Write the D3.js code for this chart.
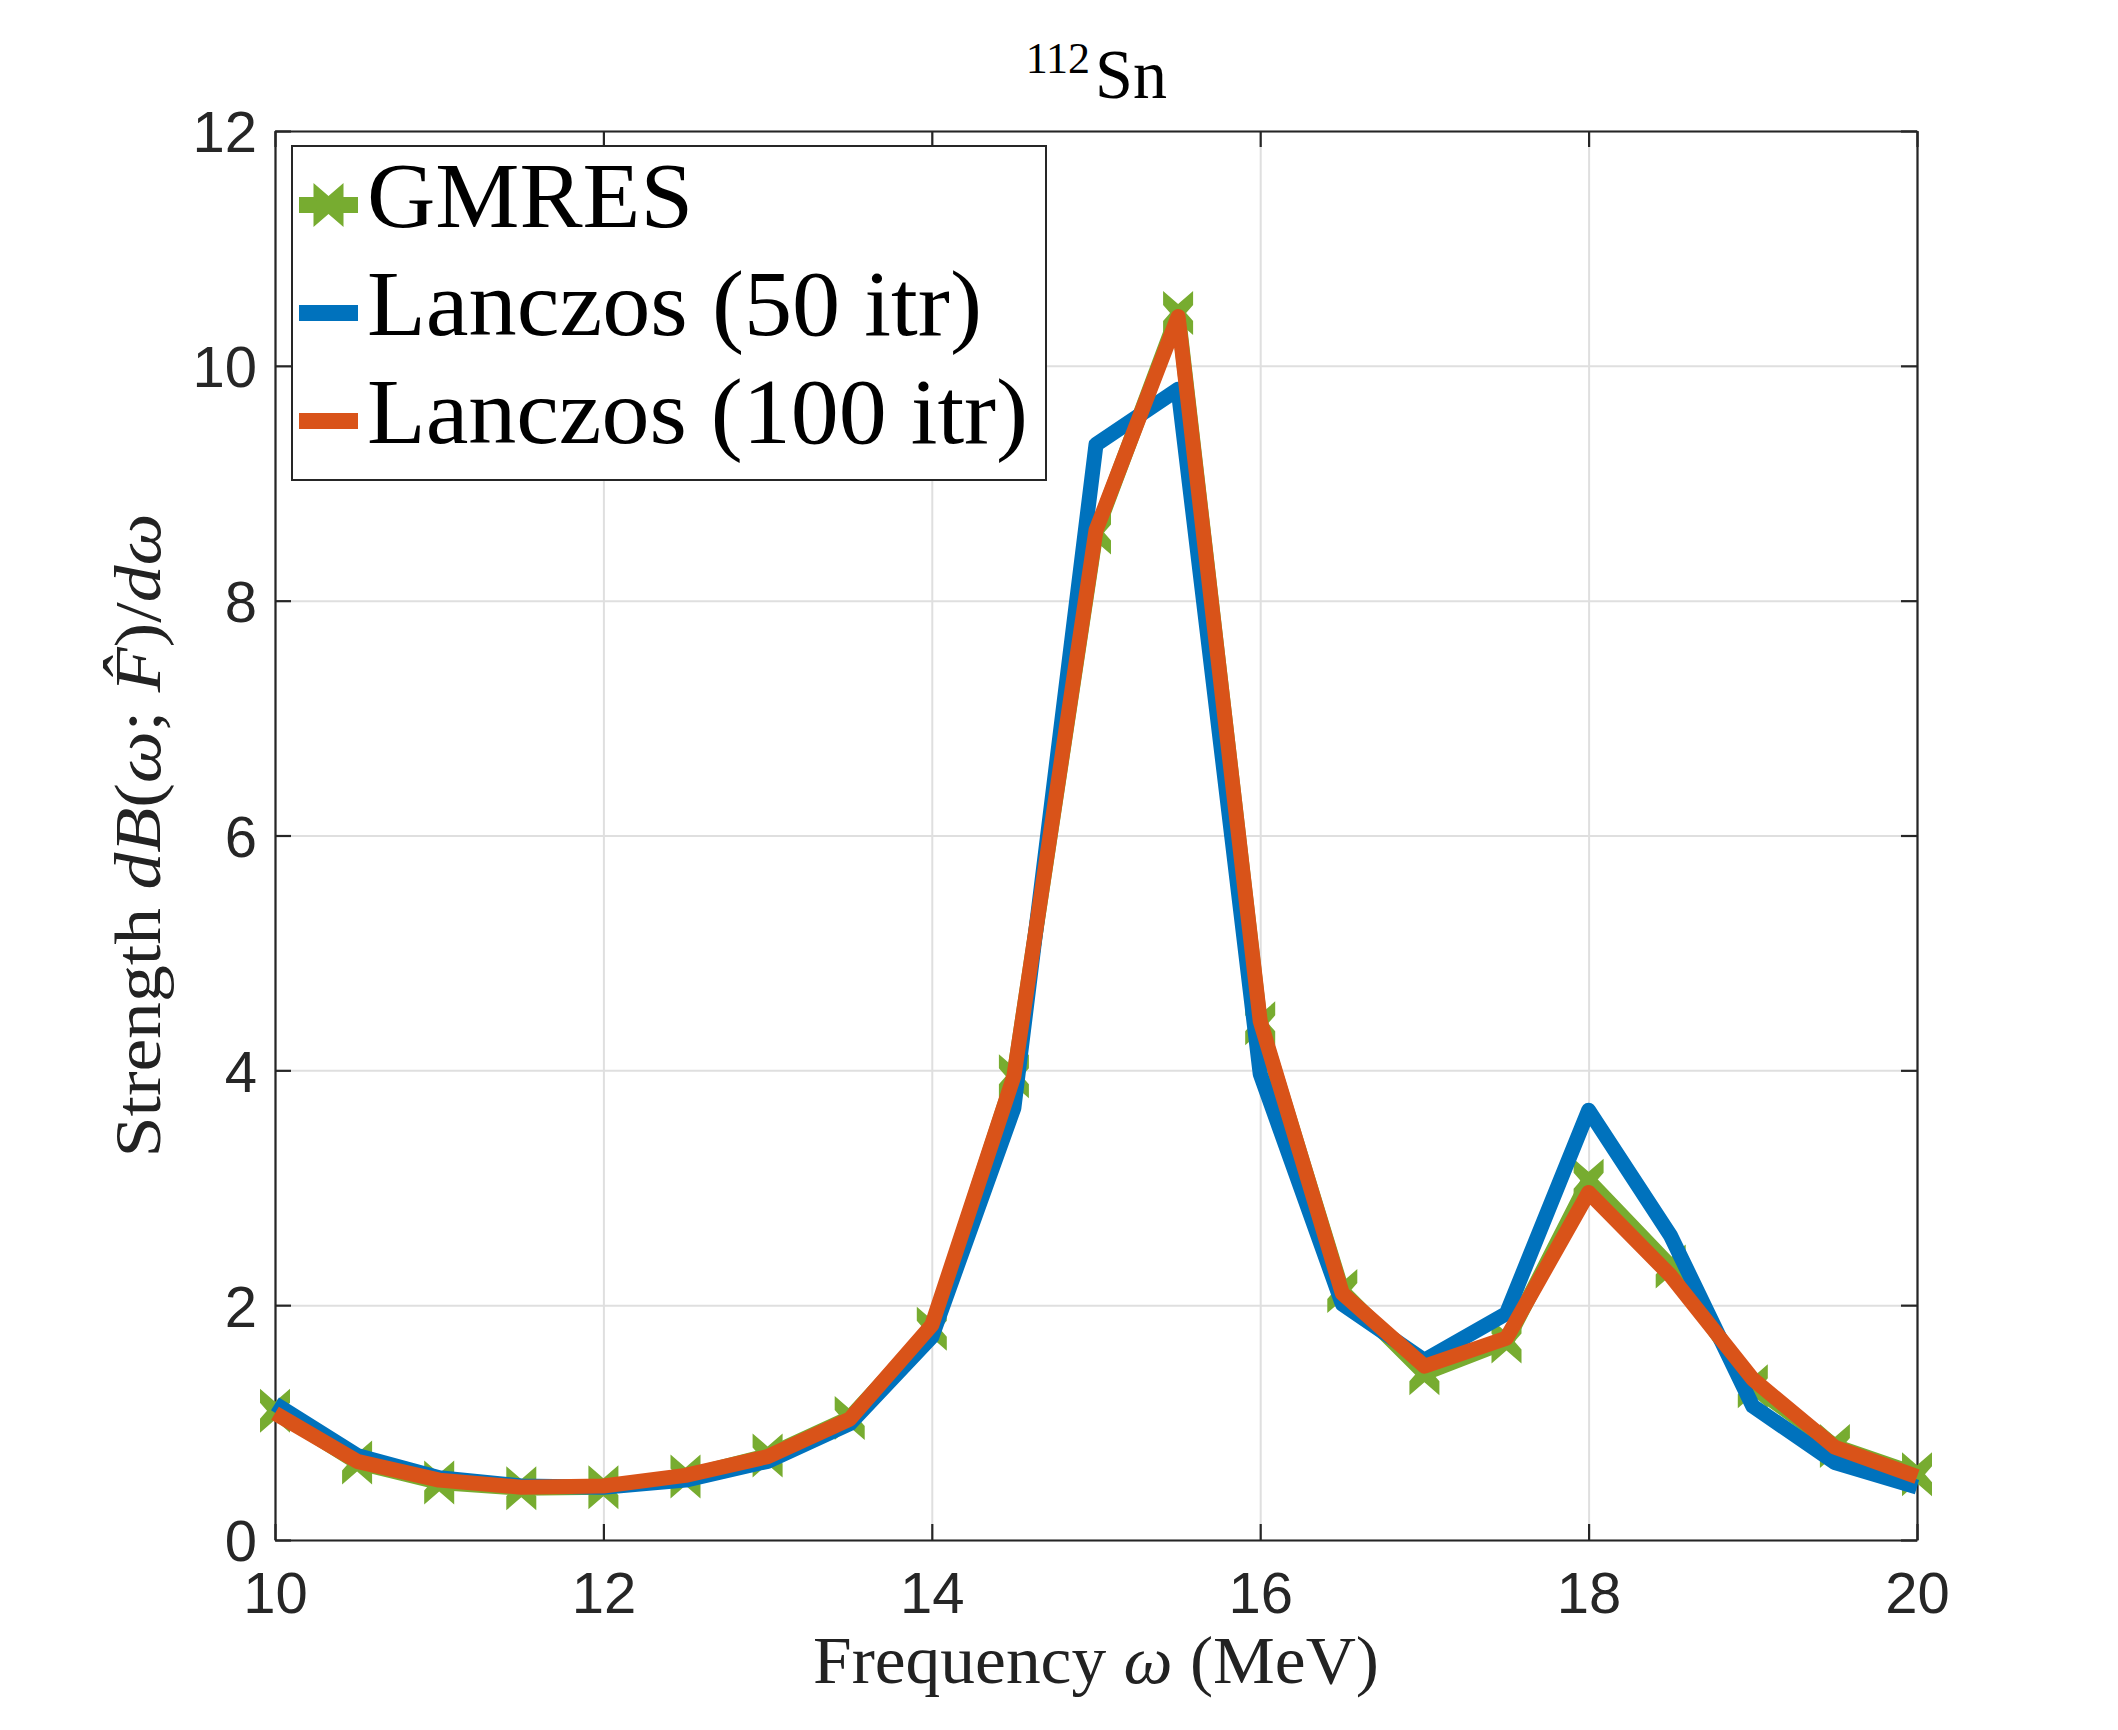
<!DOCTYPE html>
<html><head><meta charset="utf-8">
<script src="https://cdn.jsdelivr.net/npm/d3@7"></script>
<style>body{margin:0;background:#fff}</style>
</head><body><svg id="chart" width="2118" height="1730"></svg>
<script>
const freq = [10, 10.5, 11, 11.5, 12, 12.5, 13, 13.5, 14, 14.5, 15, 15.5, 16, 16.5, 17, 17.5, 18, 18.5, 19, 19.5, 20];
const gmres = [1.10, 0.66, 0.49, 0.44, 0.45, 0.54, 0.72, 1.04, 1.80, 3.95, 8.58, 10.45, 4.40, 2.12, 1.42, 1.69, 3.06, 2.33, 1.31, 0.80, 0.56];
const lanczos50 = [1.16, 0.72, 0.53, 0.46, 0.45, 0.51, 0.67, 0.99, 1.73, 3.68, 9.33, 9.80, 3.97, 2.01, 1.53, 1.93, 3.66, 2.59, 1.14, 0.66, 0.45];
const lanczos100 = [1.08, 0.67, 0.51, 0.45, 0.46, 0.55, 0.71, 1.03, 1.83, 3.95, 8.60, 10.42, 4.42, 2.10, 1.48, 1.72, 2.96, 2.25, 1.37, 0.79, 0.54];
const xTicks = [10, 12, 14, 16, 18, 20];
const yTicks = [0, 2, 4, 6, 8, 10, 12];
const seriesNames = ["GMRES", "Lanczos (50 itr)", "Lanczos (100 itr)"];
const seriesColors = ["#77AC30", "#0072BD", "#D95319"];

const svg = d3.select("#chart");
const L = 275, R = 1917, T = 131, B = 1540;
const x = d3.scaleLinear().domain([10, 20]).range([L, R]);
const y = d3.scaleLinear().domain([0, 12]).range([B, T]);
const axisCol = "#262626";
const serif = "'Liberation Serif', 'DejaVu Serif', serif";
const sans = "'Liberation Sans', Arial, sans-serif";

// grid
const gx = svg.append("g").attr("transform", `translate(0,${B})`)
  .call(d3.axisBottom(x).tickValues(xTicks).tickSize(-(B - T)).tickFormat(""));
const gy = svg.append("g").attr("transform", `translate(${L},0)`)
  .call(d3.axisLeft(y).tickValues(yTicks).tickSize(-(R - L)).tickFormat(""));
[gx, gy].forEach(g => {
  g.select(".domain").remove();
  g.selectAll("line").attr("stroke", "#DFDFDF").attr("stroke-width", 2);
});

// axes (box with inward ticks)
const tk = 16;
const ab = svg.append("g").attr("transform", `translate(0,${B})`)
  .call(d3.axisBottom(x).tickValues(xTicks).tickSizeInner(-tk).tickSizeOuter(0).tickFormat(d3.format("d")));
const at = svg.append("g").attr("transform", `translate(0,${T})`)
  .call(d3.axisTop(x).tickValues(xTicks).tickSizeInner(-tk).tickSizeOuter(0).tickFormat(""));
const al = svg.append("g").attr("transform", `translate(${L},0)`)
  .call(d3.axisLeft(y).tickValues(yTicks).tickSizeInner(-tk).tickSizeOuter(0).tickFormat(d3.format("d")));
const ar = svg.append("g").attr("transform", `translate(${R},0)`)
  .call(d3.axisRight(y).tickValues(yTicks).tickSizeInner(-tk).tickSizeOuter(0).tickFormat(""));
[ab, at, al, ar].forEach(g => {
  g.select(".domain").attr("stroke", axisCol).attr("stroke-width", 2.2);
  g.selectAll(".tick line").attr("stroke", axisCol).attr("stroke-width", 2.2);
  g.selectAll("text").attr("fill", axisCol).attr("font-family", sans).attr("font-size", 58);
});
ab.selectAll(".tick text").attr("y", 73).attr("dy", 0);
al.selectAll(".tick text").attr("x", -18).attr("dy", "0.36em");

// series
const line = d3.line().x(d => x(d[0])).y(d => y(d[1]));
const markerPath = "M0,-9 L15,-22 L15,-8 L8,0 L15,8 L15,22 L0,9 L-15,22 L-15,8 L-8,0 L-15,-8 L-15,-22 Z";
const data = [gmres, lanczos50, lanczos100].map(v => freq.map((f, i) => [f, v[i]]));

svg.append("path").datum(data[0]).attr("d", line).attr("fill", "none")
  .attr("stroke", seriesColors[0]).attr("stroke-width", 15).attr("stroke-linejoin", "round");
svg.append("g").selectAll("path").data(data[0]).join("path")
  .attr("d", markerPath).attr("fill", seriesColors[0])
  .attr("transform", d => `translate(${x(d[0])},${y(d[1])})`);
[1, 2].forEach(k => {
  svg.append("path").datum(data[k]).attr("d", line).attr("fill", "none")
    .attr("stroke", seriesColors[k]).attr("stroke-width", 15)
    .attr("stroke-linejoin", "round").attr("stroke-linecap", "butt");
});

// legend
const lg = svg.append("g");
lg.append("rect").attr("x", 292).attr("y", 146).attr("width", 754).attr("height", 334)
  .attr("fill", "#fff").attr("stroke", axisCol).attr("stroke-width", 2);
const legBase = [227, 335, 443];
const legWidth = [326, 615, 661];
seriesNames.forEach((name, i) => {
  const cy = legBase[i] - 22;
  lg.append("line").attr("x1", 299).attr("x2", 358).attr("y1", cy).attr("y2", cy)
    .attr("stroke", seriesColors[i]).attr("stroke-width", 16);
  if (i === 0) lg.append("path").attr("d", markerPath).attr("fill", seriesColors[0])
    .attr("transform", `translate(328.5,${cy})`);
  lg.append("text").attr("x", 367).attr("y", legBase[i]).text(name)
    .attr("font-family", serif).attr("font-size", 94).attr("fill", "#000")
    .attr("textLength", legWidth[i]).attr("lengthAdjust", "spacingAndGlyphs");
});

// title
svg.append("text").attr("x", 1090).attr("y", 73).attr("text-anchor", "end")
  .attr("font-family", serif).attr("font-size", 44).text("112");
svg.append("text").attr("x", 1095).attr("y", 98)
  .attr("font-family", serif).attr("font-size", 70)
  .attr("textLength", 72).attr("lengthAdjust", "spacingAndGlyphs").text("Sn");

// x label
const xl = svg.append("text").attr("x", (L + R) / 2).attr("y", 1683).attr("text-anchor", "middle")
  .attr("font-family", serif).attr("font-size", 68).attr("fill", "#222")
  .attr("textLength", 566).attr("lengthAdjust", "spacingAndGlyphs");
xl.append("tspan").text("Frequency ");
xl.append("tspan").attr("font-style", "italic").text("ω");
xl.append("tspan").text(" (MeV)");

// y label
const yl = svg.append("text").attr("transform", `translate(160,${(T + B) / 2}) rotate(-90)`)
  .attr("text-anchor", "middle").attr("font-family", serif).attr("font-size", 66).attr("fill", "#222")
  .attr("textLength", 644).attr("lengthAdjust", "spacingAndGlyphs");
yl.append("tspan").text("Strength ");
yl.append("tspan").attr("font-style", "italic").text("dB");
yl.append("tspan").text("(");
yl.append("tspan").attr("font-style", "italic").text("ω");
yl.append("tspan").text("; ");
yl.append("tspan").attr("font-style", "italic").text("F\u0302");
yl.append("tspan").text(")/");
yl.append("tspan").attr("font-style", "italic").text("dω");
</script>
</body></html>
